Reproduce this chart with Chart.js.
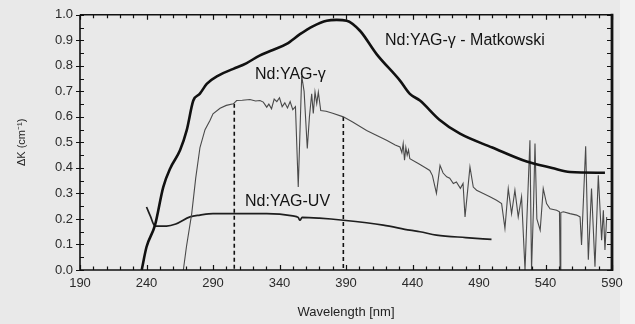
<!DOCTYPE html>
<html>
<head>
<meta charset="utf-8">
<script src="https://cdn.jsdelivr.net/npm/chart.js@4.4.1/dist/chart.umd.min.js"></script>
<style>
  html, body { margin: 0; padding: 0; background: #e9e9e9; }
  #wrap { width: 635px; height: 324px; position: relative; }
</style>
</head>
<body>
<div id="wrap"><canvas id="c" width="635" height="324"></canvas></div>
<script>
// ---- Data ----
const xTickValues = [190, 240, 290, 340, 390, 440, 490, 540, 590];
const yTickValues = [0.0, 0.1, 0.2, 0.3, 0.4, 0.5, 0.6, 0.7, 0.8, 0.9, 1.0];

const seriesNames = ["Nd:YAG-γ - Matkowski", "Nd:YAG-γ", "Nd:YAG-UV"];

// Nd:YAG-γ - Matkowski (thick black)
const matkWl = [236.4, 240, 246.4, 252.6, 258, 265.2, 270.2, 275.2, 280, 285.3, 294, 305.3, 315, 325, 335, 345.4, 355.4, 365, 375.5, 383, 390.5, 400.5, 413, 430.6, 438, 445.6, 460, 475.7, 500, 525.9, 545, 558.4, 584.7];
const matkK  = [0.0, 0.09, 0.176, 0.325, 0.40, 0.469, 0.547, 0.664, 0.69, 0.729, 0.762, 0.788, 0.81, 0.84, 0.862, 0.886, 0.924, 0.955, 0.977, 0.98, 0.977, 0.9375, 0.846, 0.742, 0.69, 0.664, 0.59, 0.534, 0.48, 0.425, 0.40, 0.384, 0.381];

// Nd:YAG-γ (thin, noisy)
const gammaWl = [267.7, 270, 274, 277, 280.2, 284, 287.7, 290, 295.3, 300, 305.3, 307.8, 312, 317.8, 322, 325.3, 327.8, 330.4, 332, 334, 336, 338, 340, 342, 344, 346, 348, 350, 352, 354.1, 356.7, 358.5, 360.9, 362.5, 364.2, 365.4, 366.7, 368, 369.2, 371, 375, 380, 388, 395, 405.5, 412, 420.5, 427, 430.6, 432, 433, 434, 435, 436, 437, 438, 445, 450, 453, 455, 458, 460.7, 463, 465.7, 468, 470.7, 473, 476, 478, 479.5, 483.2, 485.7, 488.2, 493.2, 498.2, 503.2, 507, 509.5, 512, 514.5, 517, 519.5, 522, 524.6, 526, 528.3, 529.5, 531, 532.1, 533.5, 536, 538.3, 540.8, 543.4, 548.4, 550.5, 551, 551.5, 553.4, 558.4, 563.4, 566, 567.1, 570.2, 572.2, 574.6, 577.2, 579.7, 582.2, 583.5, 584.7, 586];
const gammaK  = [0.0, 0.09, 0.221, 0.36, 0.48, 0.55, 0.586, 0.612, 0.634, 0.645, 0.651, 0.664, 0.665, 0.668, 0.662, 0.664, 0.658, 0.638, 0.65, 0.632, 0.67, 0.66, 0.675, 0.64, 0.655, 0.635, 0.66, 0.628, 0.64, 0.325, 0.76, 0.70, 0.476, 0.60, 0.69, 0.613, 0.697, 0.652, 0.697, 0.625, 0.622, 0.614, 0.60, 0.58, 0.547, 0.53, 0.508, 0.49, 0.482, 0.46, 0.495, 0.43, 0.48, 0.45, 0.47, 0.436, 0.415, 0.40, 0.39, 0.37, 0.30, 0.41, 0.38, 0.365, 0.36, 0.339, 0.345, 0.32, 0.339, 0.208, 0.404, 0.325, 0.3125, 0.30, 0.287, 0.273, 0.26, 0.163, 0.319, 0.221, 0.3125, 0.208, 0.287, 0.0, 0.2, 0.508, 0.0, 0.25, 0.496, 0.2, 0.156, 0.319, 0.26, 0.24, 0.234, 0.228, 0.0, 0.225, 0.228, 0.221, 0.215, 0.208, 0.098, 0.485, 0.04, 0.319, 0.013, 0.371, 0.117, 0.234, 0.078, 0.208];

// Nd:YAG-UV (medium)
const uvWl = [240, 243, 246.4, 255, 262, 272.7, 280.2, 290, 305.3, 330.4, 350, 354, 355.4, 357, 370, 388, 418, 438, 445.6, 458, 480, 499.4];
const uvK  = [0.247, 0.21, 0.172, 0.172, 0.18, 0.208, 0.215, 0.221, 0.221, 0.221, 0.212, 0.206, 0.195, 0.206, 0.203, 0.195, 0.176, 0.156, 0.15, 0.137, 0.127, 0.12];

// Dashed vertical markers (wavelength, top value)
const markerWl  = [306, 388];
const markerTop = [0.651, 0.60];

const zip = (xs, ys) => xs.map((x, i) => ({ x: x, y: ys[i] }));

const markerSets = markerWl.map((w, i) => ({
  data: [{ x: w, y: markerTop[i] }, { x: w, y: 0 }],
  borderColor: '#111', borderWidth: 1.6, borderDash: [4, 3],
  pointRadius: 0, showLine: true, fill: false
}));

const frameAndTicks = {
  id: 'frameAndTicks',
  beforeDraw(chart) {
    const ctx = chart.ctx;
    ctx.save();
    ctx.fillStyle = '#e9e9e9';
    ctx.fillRect(0, 0, chart.width, chart.height);
    ctx.fillStyle = '#f2f2f2';
    ctx.fillRect(620, 0, chart.width - 620, chart.height);
    ctx.restore();
  },
  afterDatasetsDraw(chart) {
    const { ctx, chartArea: a, scales: { x, y } } = chart;
    ctx.save();
    ctx.strokeStyle = '#111';
    ctx.lineWidth = 1.2;
    for (let w = 190; w <= 590; w += 10) {
      const px = Math.round(x.getPixelForValue(w)) + 0.5;
      const len = (w - 190) % 50 === 0 ? 5 : 3.5;
      ctx.beginPath();
      ctx.moveTo(px, a.bottom); ctx.lineTo(px, a.bottom - len);
      ctx.moveTo(px, a.top); ctx.lineTo(px, a.top + len);
      ctx.stroke();
    }
    for (let k = 0; k <= 20; k++) {
      const py = Math.round(y.getPixelForValue(k * 0.05)) + 0.5;
      const major = k % 2 === 0;
      ctx.beginPath();
      ctx.moveTo(a.left + (major ? -4 : 0), py); ctx.lineTo(a.left + 4, py);
      ctx.moveTo(a.right, py); ctx.lineTo(a.right - 5, py);
      ctx.stroke();
    }
    ctx.lineWidth = 1.6;
    ctx.beginPath();
    ctx.moveTo(a.left, a.top); ctx.lineTo(a.right, a.top);
    ctx.moveTo(a.left, a.top); ctx.lineTo(a.left, a.bottom);
    ctx.moveTo(a.left, a.bottom); ctx.lineTo(a.right, a.bottom);
    ctx.stroke();
    ctx.lineWidth = 2.8;
    ctx.beginPath();
    ctx.moveTo(a.right, a.top - 1); ctx.lineTo(a.right, a.bottom + 1);
    ctx.stroke();

    ctx.fillStyle = '#141414';
    ctx.font = '16px "Liberation Sans", Arial, sans-serif';
    ctx.textBaseline = 'middle';
    ctx.textAlign = 'left';
    ctx.fillText(seriesNames[0], 385, 41);
    ctx.fillText(seriesNames[1], 255, 75);
    ctx.fillText(seriesNames[2], 245, 202);
    ctx.restore();
  }
};

new Chart(document.getElementById('c'), {
  type: 'scatter',
  data: {
    datasets: [
      { label: seriesNames[0], data: zip(matkWl, matkK), borderColor: '#111', borderWidth: 2.6,
        pointRadius: 0, showLine: true, cubicInterpolationMode: 'monotone', fill: false },
      { label: seriesNames[1], data: zip(gammaWl, gammaK), borderColor: '#4a4a4a', borderWidth: 1.1,
        pointRadius: 0, showLine: true, tension: 0, fill: false },
      { label: seriesNames[2], data: zip(uvWl, uvK), borderColor: '#1e1e1e', borderWidth: 1.7,
        pointRadius: 0, showLine: true, cubicInterpolationMode: 'monotone', fill: false },
      ...markerSets
    ]
  },
  options: {
    responsive: false,
    animation: false,
    devicePixelRatio: 1,
    layout: { padding: { top: 14, right: 23, left: 0, bottom: 0 } },
    plugins: { legend: { display: false }, tooltip: { enabled: false } },
    scales: {
      x: {
        type: 'linear', min: 190, max: 590,
        afterFit: s => { s.height = 54; },
        afterBuildTicks: s => { s.ticks = xTickValues.map(v => ({ value: v })); },
        grid: { display: false, drawTicks: false },
        border: { display: false },
        ticks: { color: '#2a2a2a', padding: 6, maxRotation: 0, autoSkip: false,
                 font: { family: '"Liberation Sans", Arial, sans-serif', size: 13 },
                 callback: v => String(v) },
        title: { display: true, text: 'Wavelength [nm]', color: '#222',
                 font: { family: '"Liberation Sans", Arial, sans-serif', size: 13 },
                 padding: { top: 0, bottom: 4 } }
      },
      y: {
        type: 'linear', min: 0, max: 1,
        afterFit: s => { s.width = 80; },
        afterBuildTicks: s => { s.ticks = yTickValues.map(v => ({ value: v })); },
        grid: { display: false, drawTicks: false },
        border: { display: false },
        ticks: { color: '#2a2a2a', padding: 7, autoSkip: false,
                 font: { family: '"Liberation Sans", Arial, sans-serif', size: 13 },
                 callback: v => Number(v).toFixed(1) },
        title: { display: true, text: 'ΔK (cm⁻¹)', color: '#222',
                 font: { family: '"Liberation Sans", Arial, sans-serif', size: 11 },
                 padding: { top: 15, bottom: 0 } }
      }
    }
  },
  plugins: [frameAndTicks]
});
</script>
</body>
</html>
